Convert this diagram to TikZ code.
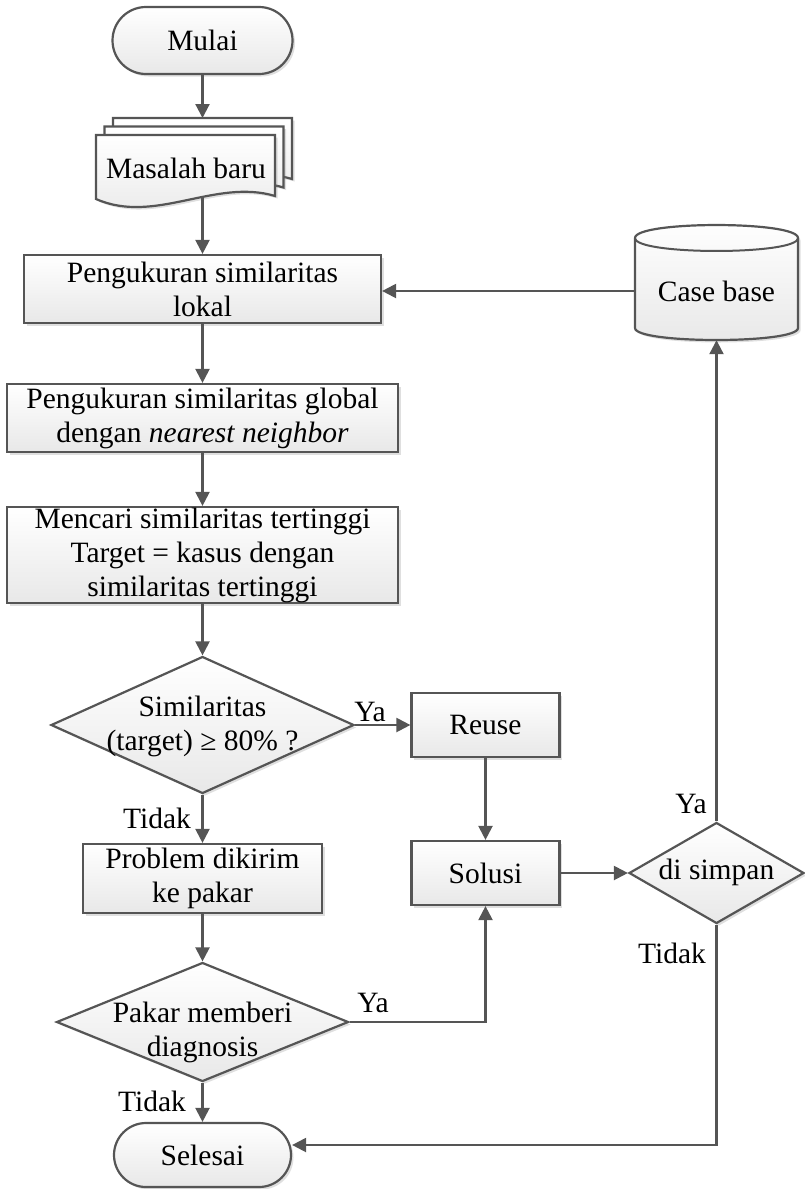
\documentclass[tikz,border=0pt]{standalone}
\usepackage{fontspec}
\setmainfont{Liberation Serif}
\usetikzlibrary{shapes.geometric,shapes.misc,arrows.meta,shadows,calc}
\definecolor{linec}{HTML}{555555}
\tikzset{
  shapebase/.style={draw=linec, line width=2.2pt, top color=white, bottom color=black!9,
    drop shadow={shadow xshift=2.5pt,shadow yshift=-2.5pt,opacity=0.25}},
  procbox/.style={shapebase, rectangle, inner sep=0pt, align=center},
  termbox/.style={shapebase, rounded rectangle, inner sep=0pt},
  decbox/.style={shapebase, diamond, inner sep=0pt},
  txt/.style={align=center, inner sep=0pt},
  lab/.style={inner sep=0pt},
  conn/.style={draw=linec, line width=2.2pt, -{Triangle[length=14pt,width=14pt]}},
  wire/.style={draw=linec, line width=2.2pt},
}
\begin{document}
\begin{tikzpicture}[x=1pt,y=-1pt, font=\fontsize{29.5}{34}\selectfont]
\useasboundingbox (0,0) rectangle (805,1189);

% Start
\node[termbox, minimum width=180pt, minimum height=67pt] (mulai) at (202.5,40.5) {Mulai};

% Multi-document
\foreach \s in {17,8.5}{
  \begin{scope}[shift={(\s,-\s)}]
    \path[shapebase] (96,135) -- (275,135) -- (275,196) .. controls (215,178) and (155,225) .. (96,199) -- cycle;
  \end{scope}
}
\path[shapebase] (96,135) -- (275,135) -- (275,196) .. controls (215,178) and (155,225) .. (96,199) -- cycle;
\node[txt] (masalah) at (186,168) {Masalah baru};
\coordinate (doctop) at (202.5,118);
\coordinate (docbot) at (202.5,197);

% Process boxes
\node[procbox, minimum width=357pt, minimum height=68pt] (lokal) at (202.5,289) {Pengukuran similaritas\\lokal};
\node[procbox, minimum width=391pt, minimum height=68pt] (global) at (202.5,418) {Pengukuran similaritas global\\dengan \textit{nearest neighbor}};
\node[procbox, minimum width=391pt, minimum height=96pt] (mencari) at (202.5,555) {Mencari similaritas tertinggi\\Target = kasus dengan\\similaritas tertinggi};

% Decision 1
\node[decbox, minimum width=303pt, minimum height=137pt] (d1) at (202.5,725) {};
\node[txt] (d1t) at (202.5,726) {Similaritas\\(target) ≥ 80\% ?};

\node[procbox, minimum width=148pt, minimum height=64pt] (reuse) at (485.5,725) {Reuse};
\node[procbox, minimum width=239pt, minimum height=69pt] (problem) at (202.5,878.5) {Problem dikirim\\ke pakar};
\node[procbox, minimum width=148pt, minimum height=64pt] (solusi) at (485.5,873) {Solusi};

% Decision 2
\node[decbox, minimum width=292pt, minimum height=119pt] (d2) at (202.5,1022) {};
\node[txt] (d2t) at (202.5,1032) {Pakar memberi\\diagnosis};

% End
\node[termbox, minimum width=177pt, minimum height=64pt] (selesai) at (202.5,1155) {Selesai};

% Decision 3
\node[decbox, minimum width=175pt, minimum height=101pt] (dsimpan) at (716.5,873) {};
\node[txt] (dsimpant) at (716.5,872) {di simpan};

% Case base cylinder
\path[shapebase] (635,238) -- (635,328) .. controls (635,344) and (798,344) .. (798,328) -- (798,238)
  .. controls (798,220.7) and (635,220.7) .. (635,238) -- cycle;
\draw[wire, line width=2pt] (635,238) .. controls (635,255.3) and (798,255.3) .. (798,238);
\node[txt, minimum width=163pt, minimum height=98pt] (casebase) at (716.5,291) {Case base};

% Connectors
\draw[conn] (mulai.south) -- (doctop);
\draw[conn] (docbot) -- (lokal.north);
\draw[conn] (lokal.south) -- (global.north);
\draw[conn] (global.south) -- (mencari.north);
\draw[conn] (mencari.south) -- (d1.north);
\draw[conn] (d1.east) -- (reuse.west);
\draw[conn] (d1.south) -- (problem.north);
\draw[conn] (reuse.south) -- (solusi.north);
\draw[conn] (problem.south) -- (d2.north);
\draw[conn] (d2.east) -| (solusi.south);
\draw[conn] (d2.south) -- (selesai.north);
\draw[conn] (solusi.east) -- (dsimpan.west);
\draw[conn] (dsimpan.north) -- (casebase.south);
\draw[conn] (dsimpan.south) |- ([yshift=10pt]selesai.east);
\draw[conn] (casebase.west) -- (casebase.west -| lokal.east);

% Labels
\node[lab] (ya1) at (370,712) {Ya};
\node[lab] (tidak1) at (157,818) {Tidak};
\node[lab] (ya2) at (373,1003) {Ya};
\node[lab] (tidak2) at (152,1101) {Tidak};
\node[lab] (ya3) at (691,804) {Ya};
\node[lab] (tidak3) at (672,953) {Tidak};
\end{tikzpicture}
\end{document}
